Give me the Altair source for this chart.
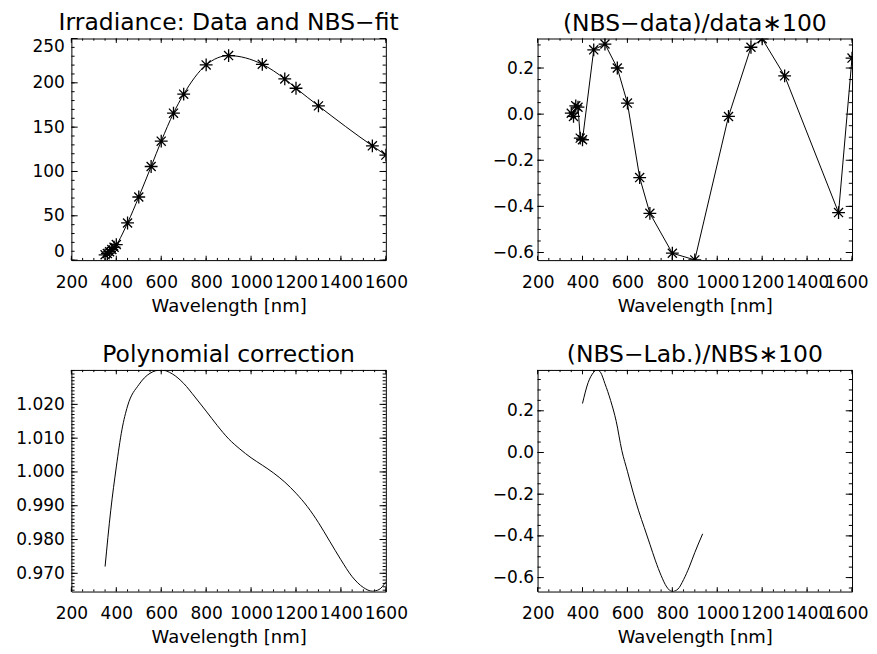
import altair as alt
import pandas as pd

FONT = "DejaVu Sans"

# ---------------- data ----------------
WL_DATA = [350, 360, 370, 380, 390, 400, 450, 500, 555, 600, 654.6, 700,
           800, 900, 1050, 1150, 1200, 1300, 1540, 1600]
IRRADIANCE = [6.0, 7.5, 9.5, 12.0, 14.5, 17.5, 41.9, 71.2, 105.6, 134.2, 165.8,
              187.2, 220.2, 230.7, 220.9, 204.4, 193.9, 174.0, 128.9, 118.5]
DEVIATION = [0.004, -0.010, 0.036, 0.030, -0.104, -0.111, 0.279, 0.304, 0.200,
             0.048, -0.275, -0.430, -0.603, -0.632, -0.010, 0.290, 0.327,
             0.166, -0.427, 0.243]

POLY_WL = [350, 375, 400, 425, 450, 500, 550, 600, 650, 700, 750, 800, 850,
           900, 950, 1000, 1050, 1100, 1150, 1200, 1250, 1300, 1350, 1400,
           1450, 1500, 1540, 1570, 1600]
POLY_CORR = [0.9720, 0.9885, 1.0015, 1.0125, 1.0195, 1.0258, 1.0292, 1.0302,
             1.0290, 1.0262, 1.0222, 1.0180, 1.0137, 1.0098, 1.0068, 1.0042,
             1.0020, 0.9997, 0.9970, 0.9937, 0.9898, 0.9850, 0.9795, 0.9740,
             0.9690, 0.9658, 0.9647, 0.9652, 0.9675]

LAB_WL = [400, 425, 450, 465, 480, 500, 525, 550, 575, 600, 625, 650, 675,
          700, 725, 750, 775, 800, 825, 850, 875, 900, 935]
LAB_DIFF = [0.235, 0.335, 0.385, 0.396, 0.385, 0.330, 0.250, 0.150, 0.010,
            -0.090, -0.190, -0.280, -0.360, -0.440, -0.520, -0.590, -0.645,
            -0.667, -0.655, -0.610, -0.550, -0.480, -0.390]

TITLES = ["Irradiance: Data and NBS\u2212fit", "(NBS\u2212data)/data\u2217100",
          "Polynomial correction", "(NBS\u2212Lab.)/NBS\u2217100"]
X_TITLE = "Wavelength [nm]"

X_DOMAIN = [200, 1600]
X_MAJOR = [200, 400, 600, 800, 1000, 1200, 1400, 1600]
X_MINOR_STEP = 50

Y1_DOMAIN = [0, 250]
Y1_MAJOR = [0, 50, 100, 150, 200, 250]
Y1_MINOR_STEP = 10
Y2_DOMAIN = [-0.633, 0.328]
Y2_MAJOR = [-0.6, -0.4, -0.2, 0.0, 0.2]
Y2_MINOR_STEP = 0.05
Y3_DOMAIN = [0.9646, 1.0302]
Y3_MAJOR = [0.970, 0.980, 0.990, 1.000, 1.010, 1.020]
Y3_MINOR_STEP = 0.001
Y4_DOMAIN = [-0.667, 0.396]
Y4_MAJOR = [-0.6, -0.4, -0.2, 0.0, 0.2]
Y4_MINOR_STEP = 0.05

W = 315
H = 222
LABEL_SIZE = 17
TITLE_SIZE = 23.5
AXIS_TITLE_SIZE = 18

STAR = ("M-1,0L1,0M0,-1L0,1M-0.7071,-0.7071L0.7071,0.7071"
        "M-0.7071,0.7071L0.7071,-0.7071")


def minor_ticks(domain, step):
    lo, hi = domain
    k0 = int(lo // step) - 1
    k1 = int(hi // step) + 2
    vals = [round(k * step, 6) for k in range(k0, k1)]
    return [v for v in vals if lo - 1e-9 <= v <= hi + 1e-9]


def tick_layers(xs, ys, xaxis, yaxis, xvals, yvals, xlen, ylen):
    layers = []
    dfy = pd.DataFrame({"v": yvals})
    base = alt.Chart(dfy).mark_rule(color="black", strokeWidth=1)
    layers.append(base.encode(y=alt.Y("v:Q", scale=ys, axis=yaxis),
                              x=alt.value(0), x2=alt.value(ylen)))
    layers.append(base.encode(y=alt.Y("v:Q", scale=ys, axis=yaxis),
                              x=alt.value(W - ylen), x2=alt.value(W)))
    dfx = pd.DataFrame({"v": xvals})
    base = alt.Chart(dfx).mark_rule(color="black", strokeWidth=1)
    layers.append(base.encode(x=alt.X("v:Q", scale=xs, axis=xaxis),
                              y=alt.value(H - xlen), y2=alt.value(H)))
    layers.append(base.encode(x=alt.X("v:Q", scale=xs, axis=xaxis),
                              y=alt.value(0), y2=alt.value(xlen)))
    return layers


def panel(x, y, title, ydomain, ymajor, yminor_step, yfmt, ylabpad, yflush,
          stars, interp, title_offset, right_col):
    xs = alt.Scale(domain=X_DOMAIN, nice=False, zero=False)
    ys = alt.Scale(domain=ydomain, nice=False, zero=False)
    df = pd.DataFrame({"x": x, "y": y})
    flush_kw = {"labelFlush": True, "labelFlushOffset": 16} if right_col \
        else {"labelFlush": False}
    xaxis = alt.Axis(values=X_MAJOR, format="d", title=X_TITLE,
                     labelOverlap=False, ticks=False,
                     tickSize=0, domain=False, grid=False, labelPadding=27,
                     labelBaseline="alphabetic", labelFont=FONT,
                     labelFontSize=LABEL_SIZE, labelColor="black",
                     titleFont=FONT, titleFontSize=AXIS_TITLE_SIZE,
                     titleFontWeight="normal",
                     titleColor="black", titleY=51,
                     titleBaseline="alphabetic", **flush_kw)
    yaxis = alt.Axis(values=ymajor, format=yfmt, title=None,
                     labelOverlap=False, labelFlush=yflush, ticks=False,
                     tickSize=0, domain=False, grid=False,
                     labelPadding=ylabpad, labelFont=FONT,
                     labelFontSize=LABEL_SIZE, labelColor="black")
    line = alt.Chart(df).mark_line(color="black", strokeWidth=1,
                                   interpolate=interp, clip=True).encode(
        x=alt.X("x:Q", scale=xs, axis=xaxis),
        y=alt.Y("y:Q", scale=ys, axis=yaxis),
    )
    layers = [line]
    if stars:
        pts = alt.Chart(df).mark_point(shape=STAR, size=165, filled=False,
                                       color="black", strokeWidth=1.3,
                                       opacity=1, clip=True).encode(
            x=alt.X("x:Q", scale=xs, axis=xaxis),
            y=alt.Y("y:Q", scale=ys, axis=yaxis),
        )
        layers.append(pts)
    xminor = minor_ticks(X_DOMAIN, X_MINOR_STEP)
    yminor = minor_ticks(ydomain, yminor_step)
    layers += tick_layers(xs, ys, xaxis, yaxis, X_MAJOR, ymajor, 4.4, 6.3)
    layers += tick_layers(xs, ys, xaxis, yaxis, xminor, yminor, 2.2, 3.2)
    return alt.layer(*layers).properties(
        width=W, height=H,
        title=alt.TitleParams(title, font=FONT, fontSize=TITLE_SIZE,
                              fontWeight="normal", color="black",
                              baseline="alphabetic", offset=title_offset,
                              anchor="middle"),
    )


p1 = panel(WL_DATA, IRRADIANCE, TITLES[0], Y1_DOMAIN, Y1_MAJOR, Y1_MINOR_STEP,
           "d", 7, True, True, "monotone", -16, False)
p2 = panel(WL_DATA, DEVIATION, TITLES[1], Y2_DOMAIN, Y2_MAJOR, Y2_MINOR_STEP,
           ".1f", 4, False, True, "linear", -16, True)
p3 = panel(POLY_WL, POLY_CORR, TITLES[2], Y3_DOMAIN, Y3_MAJOR, Y3_MINOR_STEP,
           ".3f", 7, False, False, "monotone", -16, False)
p4 = panel(LAB_WL, LAB_DIFF, TITLES[3], Y4_DOMAIN, Y4_MAJOR, Y4_MINOR_STEP,
           ".1f", 4, False, False, "monotone", -16, True)

chart = alt.ConcatChart(concat=[p1, p2, p3, p4], columns=2,
                        spacing={"row": 110, "column": 152},
                        bounds="flush").properties(
    padding={"left": 6.5, "top": 2, "right": 0, "bottom": 0},
    background="white",
).configure_view(stroke="black", strokeWidth=1)

chart.save("out.html", embed_options={"renderer": "svg", "actions": False})
